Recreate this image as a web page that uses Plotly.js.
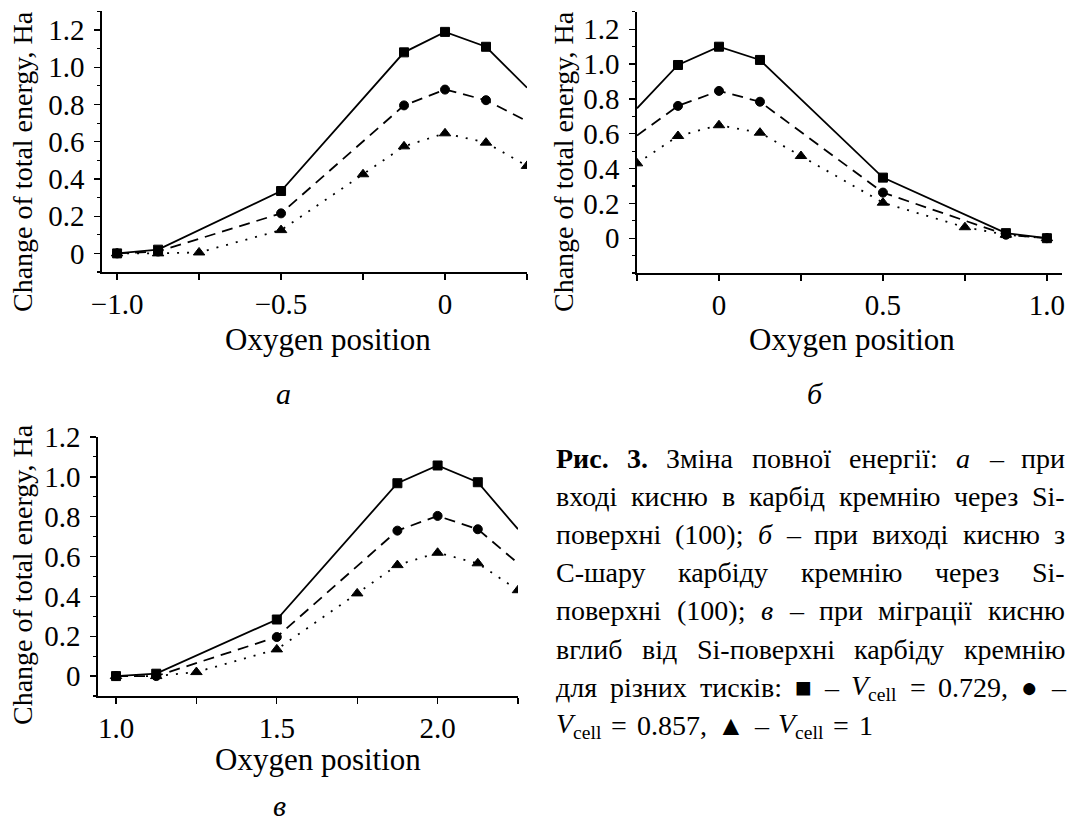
<!DOCTYPE html>
<html><head><meta charset="utf-8">
<script src="https://cdn.plot.ly/plotly-3.0.1.min.js"></script>
<style>html,body{margin:0;padding:0;background:#fff;} #chart{width:1071px;height:823px;}</style>
</head><body><div id="chart"></div>
<script>
// ---------- DATA ----------
// Panel а
const xA_sq = [-1.0, -0.875, -0.5, -0.125, 0, 0.125, 0.25];
const ySq_a = [0, 0.02, 0.335, 1.08, 1.19, 1.11, 0.89];
const yCi_a = [0, 0.01, 0.215, 0.795, 0.88, 0.823, 0.71];
const xA_tr = [-1.0, -0.875, -0.75, -0.5, -0.25, -0.125, 0, 0.125, 0.25];
const yTr_a = [0, 0, 0.005, 0.125, 0.425, 0.575, 0.645, 0.595, 0.47];
// Panel б
const xB_sq = [-0.25, -0.125, 0, 0.125, 0.5, 0.875, 1.0];
const ySq_b = [0.746, 0.995, 1.10, 1.024, 0.348, 0.029, 0];
const yCi_b = [0.59, 0.76, 0.846, 0.784, 0.262, 0.02, 0];
const xB_tr = [-0.25, -0.125, 0, 0.125, 0.25, 0.5, 0.75, 0.875, 1.0];
const yTr_b = [0.43, 0.587, 0.649, 0.606, 0.472, 0.204, 0.063, 0.02, 0];
// Panel в
const xC_sq = [1.0, 1.125, 1.5, 1.875, 2.0, 2.125, 2.25];
const ySq_c = [0, 0.012, 0.284, 0.968, 1.057, 0.973, 0.737];
const yCi_c = [0, 0, 0.196, 0.730, 0.804, 0.737, 0.566];
const xC_tr = [1.0, 1.125, 1.25, 1.5, 1.75, 1.875, 2.0, 2.125, 2.25];
const yTr_c = [0, 0, 0.02, 0.134, 0.415, 0.557, 0.619, 0.566, 0.431];

// Tick labels
const xTickA = [-1.0, -0.5, 0];
const xTextA = ['\u22121.0', '\u22120.5', '0'];
const xTickB = [0, 0.5, 1.0];
const xTextB = ['0', '0.5', '1.0'];
const xTickC = [1.0, 1.5, 2.0];
const xTextC = ['1.0', '1.5', '2.0'];
const yTick = [0, 0.2, 0.4, 0.6, 0.8, 1.0, 1.2];
const yText = ['0', '0.2', '0.4', '0.6', '0.8', '1.0', '1.2'];

const yTitle = 'Change of total energy, Ha';
const xTitle = 'Oxygen position';
const panelLetters = ['а', 'б', 'в'];

// Caption (words; segments: [text, style]) n=normal b=bold i=italic s=subscript
const captionLines = [
  [[['Рис.','b']],[['3.','b']],[['Зміна','n']],[['повної','n']],[['енергії:','n']],[['а','i']],[['–','n']],[['при','n']]],
  [[['вході','n']],[['кисню','n']],[['в','n']],[['карбід','n']],[['кремнію','n']],[['через','n']],[['Si-','n']]],
  [[['поверхні','n']],[['(100);','n']],[['б','i']],[['–','n']],[['при','n']],[['виході','n']],[['кисню','n']],[['з','n']]],
  [[['С-шару','n']],[['карбіду','n']],[['кремнію','n']],[['через','n']],[['Si-','n']]],
  [[['поверхні','n']],[['(100);','n']],[['в','i']],[['–','n']],[['при','n']],[['міграції','n']],[['кисню','n']]],
  [[['вглиб','n']],[['від','n']],[['Si-поверхні','n']],[['карбіду','n']],[['кремнію','n']]],
  [[['для','n']],[['різних','n']],[['тисків:','n']],[['■','n']],[['–','n']],[['V','i'],['cell','s']],[['=','n']],[['0.729,','n']],[['●','n']],[['–','n']]],
  [[['V','i'],['cell','s']],[['=','n']],[['0.857,','n']],[['▲','n']],[['–','n']],[['V','i'],['cell','s']],[['=','n']],[['1','n']]]
];

// ---------- STYLE / LAYOUT ----------
const W = 1071, H = 823;
const FONT = '"Liberation Serif", "Times New Roman", serif';
const px = v => v / W;
const py = v => 1 - v / H;

function mk(x, y, xa, ya, sym, dash, size, edge) {
  return {
    x: x, y: y, xaxis: xa, yaxis: ya, type: 'scatter', mode: 'lines+markers',
    line: {color: 'black', width: 1.8, dash: dash},
    marker: {symbol: sym, color: 'black', opacity: 1, line: {width: 1, color: 'black'},
             size: edge === null ? size : x.map(v => (v === edge ? 0 : size))},
    cliponaxis: true, hoverinfo: 'skip'
  };
}
const DASH = '11px,7px', DOT = '2px,8px';
const data = [
  mk(xA_sq, ySq_a, 'x', 'y', 'square', 'solid', 9, 0.25),
  mk(xA_sq, yCi_a, 'x', 'y', 'circle', DASH, 9, 0.25),
  mk(xA_tr, yTr_a, 'x', 'y', 'triangle-up', DOT, 10, null),
  mk(xB_sq, ySq_b, 'x2', 'y2', 'square', 'solid', 9, -0.25),
  mk(xB_sq, yCi_b, 'x2', 'y2', 'circle', DASH, 9, -0.25),
  mk(xB_tr, yTr_b, 'x2', 'y2', 'triangle-up', DOT, 10, null),
  mk(xC_sq, ySq_c, 'x3', 'y3', 'square', 'solid', 9, 2.25),
  mk(xC_sq, yCi_c, 'x3', 'y3', 'circle', DASH, 9, 2.25),
  mk(xC_tr, yTr_c, 'x3', 'y3', 'triangle-up', DOT, 10, null)
];

const tickFont = {family: FONT, size: 29, color: 'black'};
function xax(dom, range, anchor, tv, tt) {
  return {domain: dom, range: range, anchor: anchor, tickmode: 'array', tickvals: tv, ticktext: tt,
    showline: true, linecolor: 'black', linewidth: 1.6, ticks: 'outside', ticklen: 6, tickwidth: 1.3,
    tickcolor: 'black', showgrid: false, zeroline: false, tickfont: tickFont, ticklabelstandoff: 0,
    minor: {dtick: 0.25, tick0: 0, ticks: 'outside', ticklen: 6, tickwidth: 1.3, tickcolor: 'black', showgrid: false},
    automargin: false, fixedrange: true};
}
function yax(dom, range, anchor) {
  return {domain: dom, range: range, anchor: anchor, tickmode: 'array', tickvals: yTick, ticktext: yText,
    showline: true, linecolor: 'black', linewidth: 1.6, ticks: 'outside', ticklen: 6, tickwidth: 1.3,
    tickcolor: 'black', showgrid: false, zeroline: false, tickfont: tickFont, ticklabelstandoff: 4,
    minor: {dtick: 0.1, tick0: 0, ticks: 'outside', ticklen: 3, tickwidth: 1.1, tickcolor: 'black', showgrid: false},
    automargin: false, fixedrange: true};
}

const annotations = [];
// y-axis titles (rotated)
[[22, 162], [563, 162], [22, 575]].forEach(p => {
  annotations.push({xref: 'paper', yref: 'paper', x: px(p[0]), y: py(p[1]), text: yTitle, textangle: -90,
    showarrow: false, xanchor: 'center', yanchor: 'middle', font: {family: FONT, size: 28, color: 'black'}});
});
// x-axis titles
[[328, 339], [852, 339], [318, 759]].forEach(p => {
  annotations.push({xref: 'paper', yref: 'paper', x: px(p[0]), y: py(p[1]), text: xTitle, borderpad: 0,
    showarrow: false, xanchor: 'center', yanchor: 'middle', font: {family: FONT, size: 31, color: 'black'}});
});
// panel letters
[[283, 393], [815, 393], [279, 805]].forEach((p, i) => {
  annotations.push({xref: 'paper', yref: 'paper', x: px(p[0]), y: py(p[1]), text: '<i>' + panelLetters[i] + '</i>',
    showarrow: false, xanchor: 'center', yanchor: 'middle', font: {family: FONT, size: 30, color: 'black'}});
});

// caption with justified lines
const CAP_SIZE = 28, CAP_L = 556, CAP_R = 1065, CAP_Y0 = 458, CAP_DY = 38.2;
const cvs = document.createElement('canvas').getContext('2d');
function segFont(st) {
  if (st === 'b') return 'bold ' + CAP_SIZE + 'px ' + FONT;
  if (st === 'i') return 'italic ' + CAP_SIZE + 'px ' + FONT;
  if (st === 's') return (CAP_SIZE * 0.7) + 'px ' + FONT;
  return CAP_SIZE + 'px ' + FONT;
}
function wordWidth(w) { return w.reduce((s, seg) => { cvs.font = segFont(seg[1]); return s + cvs.measureText(seg[0]).width; }, 0); }
function wordHtml(w) {
  return w.map(seg => seg[1] === 'b' ? '<b>' + seg[0] + '</b>' : seg[1] === 'i' ? '<i>' + seg[0] + '</i>' :
    seg[1] === 's' ? '<sub>' + seg[0] + '</sub>' : seg[0]).join('');
}
cvs.font = segFont('n');
const spaceW = cvs.measureText(' ').width;
captionLines.forEach((line, li) => {
  const widths = line.map(wordWidth);
  const total = widths.reduce((a, b) => a + b, 0);
  const last = li === captionLines.length - 1;
  const gap = last ? spaceW * 1.4 : Math.max(spaceW * 0.6, (CAP_R - CAP_L - total) / (line.length - 1));
  let x = CAP_L;
  line.forEach((w, wi) => {
    annotations.push({xref: 'paper', yref: 'paper', x: px(x - 2), y: py(CAP_Y0 + li * CAP_DY), text: wordHtml(w),
      showarrow: false, xanchor: 'left', yanchor: 'middle', font: {family: FONT, size: CAP_SIZE, color: 'black'}});
    x += widths[wi] + gap;
  });
});

const layout = {
  width: W, height: H, margin: {l: 0, r: 0, t: 0, b: 0}, showlegend: false,
  paper_bgcolor: 'white', plot_bgcolor: 'white', font: {family: FONT, color: 'black'},
  xaxis: xax([px(102), px(527)], [-1.046, 0.25], 'y', xTickA, xTextA),
  yaxis: yax([py(272), py(11.4)], [-0.1, 1.3], 'x'),
  xaxis2: xax([px(637), px(1062)], [-0.25, 1.046], 'y2', xTickB, xTextB),
  yaxis2: yax([py(273), py(11.9)], [-0.2, 1.3], 'x2'),
  xaxis3: xax([px(98), px(518)], [0.944, 2.25], 'y3', xTickC, xTextC),
  yaxis3: yax([py(696), py(437)], [-0.1, 1.2], 'x3'),
  annotations: annotations
};
Plotly.newPlot('chart', data, layout, {displayModeBar: false, staticPlot: true});
</script>
</body></html>
